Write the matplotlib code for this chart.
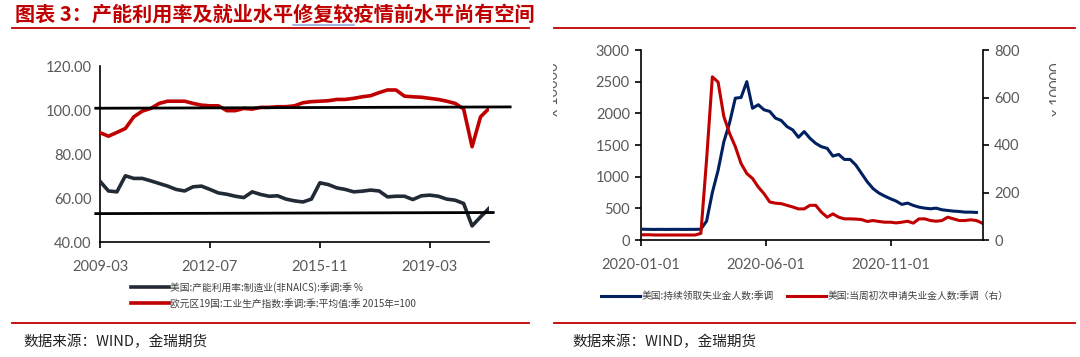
import matplotlib
matplotlib.use("Agg")
import matplotlib.pyplot as plt
import matplotlib.dates as mdates
from matplotlib.lines import Line2D
from matplotlib.transforms import Bbox, TransformedBbox
import pandas as pd

# ---------------- data ----------------
# Left chart: quarterly, 2009Q1 .. 2020Q3 (47 points)
left_tick_pos = [0, 13, 26, 39]
left_tick_labels = ["2009-03", "2012-07", "2015-11", "2019-03"]
us_capacity = [67.6, 63.2, 62.8, 70.1, 68.9, 68.9, 67.8, 66.6, 65.4, 63.9,
               63.2, 65.1, 65.4, 63.9, 62.3, 61.7, 60.8, 60.2, 62.8, 61.6,
               60.8, 61.0, 59.5, 58.7, 58.2, 59.5, 66.9, 66.1, 64.6, 63.9,
               62.8, 63.1, 63.6, 63.2, 60.5, 60.8, 60.8, 59.3, 61.0, 61.3,
               60.8, 59.5, 59.0, 57.5, 47.3, 51.4, 55.3]
ez_ip = [89.7, 88.1, 89.8, 91.6, 96.9, 99.5, 100.7, 103.0, 104.0, 104.0,
         104.0, 103.0, 102.2, 101.9, 101.9, 99.7, 99.7, 100.7, 100.4, 101.2,
         101.2, 101.5, 101.5, 101.9, 103.3, 103.8, 104.0, 104.2, 104.8, 104.8,
         105.3, 106.0, 106.5, 107.9, 109.1, 109.1, 106.3, 106.0, 105.8, 105.3,
         104.8, 104.0, 103.0, 100.5, 83.3, 96.9, 100.7]
trend_hi_x = [-0.5, 48.5]
trend_hi_y = [100.8, 101.4]
trend_lo_x = [-0.5, 46.5]
trend_lo_y = [52.9, 53.4]
left_yticks = [40, 60, 80, 100, 120]

# Right chart: weekly, from 2020-01-04
week_start = "2020-01-04"
continuing_claims = [170, 168, 167, 168, 167, 168, 168, 167, 168, 168,
                     170, 300, 750, 1100, 1550, 1850, 2240, 2250, 2500, 2080,
                     2136, 2056, 2030, 1924, 1887, 1791, 1738, 1622, 1712, 1606,
                     1526, 1473, 1447, 1325, 1351, 1272, 1272, 1182, 1049, 917,
                     811, 742, 694, 652, 615, 562, 583, 546, 519, 503,
                     493, 503, 477, 466, 456, 450, 440, 440, 435]
initial_claims = [22, 22, 21, 21, 21, 21, 21, 21, 21, 21,
                  28, 340, 687, 665, 520, 449, 393, 322, 280, 259,
                  223, 195, 160, 155, 153, 146, 139, 131, 131, 146,
                  146, 117, 96, 110, 96, 89, 89, 88, 86, 78,
                  82, 78, 75, 75, 72, 75, 79, 71, 89, 89,
                  82, 79, 82, 96, 89, 82, 82, 85, 82, 71]
right_xticks = ["2020-01-01", "2020-06-01", "2020-11-01"]
right_xlim = ["2020-01-01", "2021-02-21"]
left2_yticks = [0, 500, 1000, 1500, 2000, 2500, 3000]
right2_yticks = [0, 200, 400, 600, 800]

title_pre = "图表 3：产能利用率及就业水平"
title_link = "修复较"
title_post = "疫情前水平尚有空间"
title = title_pre + title_link + title_post
source = "数据来源：WIND，金瑞期货"
lab_us = "美国:产能利用率:制造业(非NAICS):季调:季 %"
lab_ez = "欧元区19国:工业生产指数:季调:季:平均值:季 2015年=100"
lab_cc = "美国:持续领取失业金人数:季调"
lab_ic = "美国:当周初次申请失业金人数:季调（右）"

# ---------------- style ----------------
RED = "#C00000"
NAVY = "#002060"
DARK = "#222A35"
GRAY = "#595959"
CJK = ["Noto Sans CJK SC", "DejaVu Sans"]
NUMF = ["Lato", "DejaVu Sans"]

W, H = 1080, 357
fig = plt.figure(figsize=(W / 100, H / 100), dpi=100)
fig.patch.set_facecolor("white")


def fx(px):
    return px / W


def fy(py):
    return 1 - py / H


def box(x0, y0, x1, y1):
    return [fx(x0), fy(y1), fx(x1) - fx(x0), fy(y0) - fy(y1)]


# ---------------- left chart ----------------
ax1 = fig.add_axes(box(100, 66, 489, 242))
x_idx = list(range(len(us_capacity)))
l_us, = ax1.plot(x_idx, us_capacity, color=DARK, lw=2.6, label=lab_us,
                 solid_joinstyle="round", zorder=3)
l_ez, = ax1.plot(x_idx, ez_ip, color=RED, lw=2.6, label=lab_ez,
                 solid_joinstyle="round", zorder=3)
ax1.plot(trend_hi_x, trend_hi_y, color="black", lw=2.0, clip_on=False, zorder=4)
ax1.plot(trend_lo_x, trend_lo_y, color="black", lw=2.0, clip_on=False, zorder=4)
ax1.set_xlim(0, len(us_capacity) - 1)
ax1.set_ylim(40, 120)
ax1.set_yticks(left_yticks)
ax1.set_yticklabels([f"{v:.2f}" for v in left_yticks])
ax1.set_xticks(left_tick_pos)
ax1.set_xticklabels(left_tick_labels)
for s in ["top", "right"]:
    ax1.spines[s].set_visible(False)
for s in ["left", "bottom"]:
    ax1.spines[s].set_linewidth(1.2)
    ax1.spines[s].set_color("black")
ax1.tick_params(axis="y", length=0, pad=6, labelsize=10.5, labelcolor=GRAY)
ax1.tick_params(axis="x", length=4, width=1.2, direction="out", pad=9,
                labelsize=10.5, labelcolor=GRAY)
for t in ax1.get_xticklabels() + ax1.get_yticklabels():
    t.set_fontfamily(NUMF)
ax1.set_facecolor("none")

fig.legend(handles=[l_us, l_ez], loc="upper left",
           bbox_to_anchor=(fx(131), fy(282)), ncol=1, frameon=False,
           prop={"family": CJK, "size": 7.0}, labelcolor="#404040",
           handlelength=3.9, handletextpad=0.15, labelspacing=0.6,
           borderpad=0, borderaxespad=0)

# ---------------- right chart ----------------
ax2 = fig.add_axes(box(641, 50, 983, 240))
ax3 = ax2.twinx()
weeks_cc = pd.date_range(week_start, periods=len(continuing_claims), freq="7D")
weeks_ic = pd.date_range(week_start, periods=len(initial_claims), freq="7D")
l_cc, = ax2.plot(weeks_cc, continuing_claims, color=NAVY, lw=2.2, label=lab_cc,
                 solid_joinstyle="round")
l_ic, = ax3.plot(weeks_ic, initial_claims, color=RED, lw=2.2, label=lab_ic,
                 solid_joinstyle="round")
ax2.set_xlim(pd.Timestamp(right_xlim[0]), pd.Timestamp(right_xlim[1]))
ax2.set_ylim(0, 3000)
ax3.set_ylim(0, 800)
ax2.set_yticks(left2_yticks)
ax3.set_yticks(right2_yticks)
ax2.set_xticks([pd.Timestamp(d) for d in right_xticks])
ax2.xaxis.set_major_formatter(mdates.DateFormatter("%Y-%m-%d"))
for a in (ax2, ax3):
    a.spines["top"].set_visible(False)
    for s in ["left", "right", "bottom"]:
        a.spines[s].set_linewidth(1.2)
        a.spines[s].set_color("black")
ax2.spines["right"].set_visible(False)
ax3.spines["left"].set_visible(False)
ax3.spines["bottom"].set_visible(False)
ax2.tick_params(axis="y", length=4, width=1.2, direction="out", pad=4,
                labelsize=10.5, labelcolor=GRAY)
ax3.tick_params(axis="y", length=4, width=1.2, direction="out", pad=4,
                labelsize=10.5, labelcolor=GRAY)
ax2.tick_params(axis="x", length=4, width=1.2, direction="out", pad=9,
                labelsize=10.5, labelcolor=GRAY)
for t in ax2.get_xticklabels() + ax2.get_yticklabels() + ax3.get_yticklabels():
    t.set_fontfamily(NUMF)

fig.legend(handles=[l_cc, l_ic], loc="center left",
           bbox_to_anchor=(fx(601), fy(296)), ncol=2, frameon=False,
           prop={"family": CJK, "size": 7.0}, labelcolor="#404040",
           handlelength=4.0, handletextpad=0.15, columnspacing=1.4,
           borderpad=0, borderaxespad=0)

# axis unit labels (clipped like the original)
for xc, clip, txt in [(554, (553, 0, 1080, 357), "x 10000"),
                      (1057, (0, 0, 1056, 357), "x 10000")]:
    t = fig.text(fx(xc), fy(89), txt, rotation=90, ha="center", va="center",
                 fontsize=10.5, color=GRAY, family=NUMF)
    x0, y0, x1, y1 = clip
    bb = Bbox.from_extents(fx(x0), fy(y1), fx(x1), fy(y0))
    t.set_clip_box(TransformedBbox(bb, fig.transFigure))
    t.set_clip_on(True)

# ---------------- title, rules, sources ----------------
TX, TY, TFS = 15, 14, 14.5
ttl = fig.text(fx(TX), fy(TY), title, fontsize=TFS, fontweight="bold", color=RED,
               family=CJK, va="center", ha="left")
# blue hyperlink underline under "修复较"
renderer = fig.canvas.get_renderer()
tmp1 = fig.text(0, 0, title_pre, fontsize=TFS, fontweight="bold", family=CJK)
tmp2 = fig.text(0, 0, title_pre + title_link, fontsize=TFS, fontweight="bold", family=CJK)
w1 = tmp1.get_window_extent(renderer).width
w2 = tmp2.get_window_extent(renderer).width
tmp1.remove()
tmp2.remove()
fig.add_artist(Line2D([fx(TX + w1), fx(TX + w2)], [fy(24.5), fy(24.5)],
                      color="#8EA9DB", lw=1.2))

for (x0, x1, yy) in [(12, 529, 28), (554, 1075, 28), (12, 529, 323), (554, 1075, 323)]:
    fig.add_artist(Line2D([fx(x0), fx(x1)], [fy(yy), fy(yy)], color=RED, lw=1.3))
for xs in (23, 572):
    fig.text(fx(xs), fy(342), source, fontsize=10.5, family=CJK, color="#222222",
             va="center", ha="left")

fig.savefig("out.png", dpi=100, facecolor="white")
